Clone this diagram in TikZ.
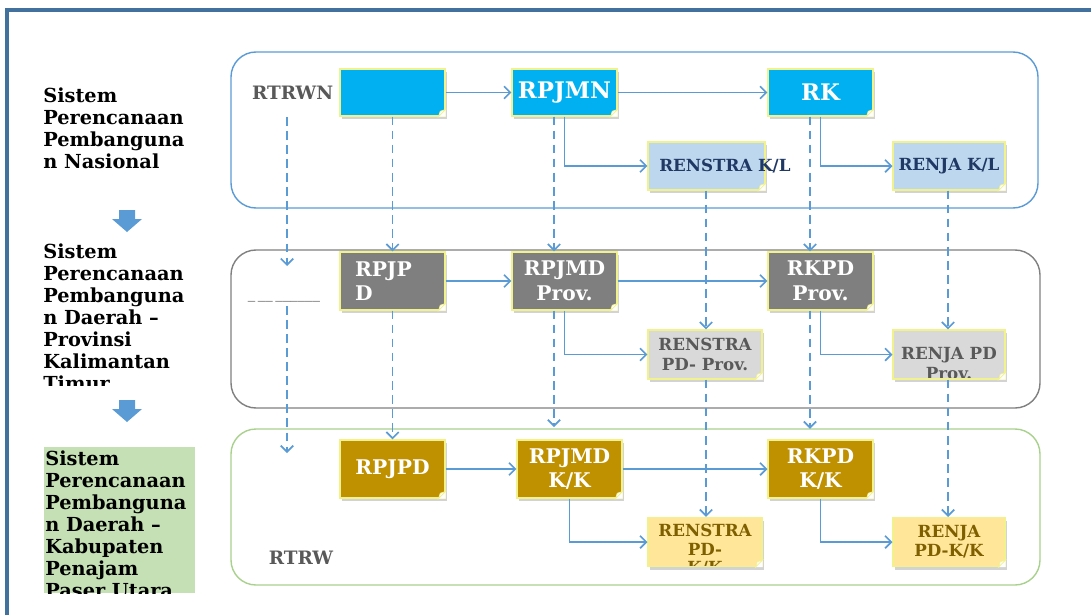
\documentclass[tikz,border=0pt]{standalone}
\usepackage{fontspec}
\setmainfont{DejaVu Serif}
\usetikzlibrary{arrows.meta,shadows}

\begin{document}
\begin{tikzpicture}[x=0.02cm,y=-0.02cm]
  % Key Colors
  \definecolor{framecolor}{HTML}{41719C}
  \definecolor{flowcolor} {HTML}{5B9BD5}
  \definecolor{nasfill}   {HTML}{00B0F0}
  \definecolor{nassub}    {HTML}{BDD7EE}
  \definecolor{nastext}   {HTML}{1F3864}
  \definecolor{provfill}  {HTML}{7F7F7F}
  \definecolor{provsub}   {HTML}{D9D9D9}
  \definecolor{provtext}  {HTML}{595959}
  \definecolor{kabfill}   {HTML}{BF9000}
  \definecolor{kabsub}    {HTML}{FFE699}
  \definecolor{kabtext}   {HTML}{7F6000}
  \definecolor{notebrd}   {HTML}{F2F28C}
  \definecolor{greenbg}   {HTML}{C5E0B4}
  \definecolor{greenline} {HTML}{A9D18E}

  % Styles
  \tikzstyle{note}=[draw=notebrd,line width=0.6pt,inner sep=0pt,align=center,
    drop shadow={shadow xshift=1pt,shadow yshift=-1.8pt,opacity=0.35}]
  \tikzstyle{big}=[note,minimum width=2.1cm,minimum height=1.16cm,text=white,
    font=\bfseries\fontsize{11.5}{14}\selectfont]
  \tikzstyle{small}=[note,minimum height=0.98cm,font=\bfseries\fontsize{9.5}{11}\selectfont]
  \tikzstyle{flow}=[flowcolor,line width=1pt,-{Straight Barb[length=3.5pt,width=7pt]}]
  \tikzstyle{link}=[flow,dash pattern=on 5pt off 3pt]
  \tikzstyle{panel}=[rounded corners=0.5cm,line width=0.8pt]
  \tikzstyle{level}=[anchor=north west,align=left,inner sep=0pt,
    font=\bfseries\fontsize{11}{12.6}\selectfont]
  \tikzstyle{plan}=[text=provtext,font=\bfseries\fontsize{10.5}{12}\selectfont]

  \useasboundingbox (0,0) rectangle (1091,615);

  % Frame and panels
  \draw[framecolor,line width=2pt] (7,615) -- (7,10) -- (1091,10);
  \draw[panel,flowcolor] (231,52)  rectangle (1038,208);
  \draw[panel,black!50]  (231,250) rectangle (1040,408);
  \draw[panel,greenline] (231,429) rectangle (1040,585);

  % Level captions
  \node[level] (nas) at (43,87) {Sistem\\Perencanaan\\Pembanguna\\n Nasional};
  \begin{scope}
    \clip (0,240) rectangle (230,385);
    \node[level] (prov) at (43,243)
      {Sistem\\Perencanaan\\Pembanguna\\n Daerah --\\Provinsi\\Kalimantan\\Timur};
  \end{scope}
  \fill[greenbg] (44,447) rectangle (195,593);
  \begin{scope}
    \clip (44,447) rectangle (195,593);
    \node[level] (kab) at (45,450)
      {Sistem\\Perencanaan\\Pembanguna\\n Daerah --\\Kabupaten\\Penajam\\Paser Utara};
  \end{scope}
  \foreach \y in {210,400}
    \fill[flowcolor] (119,\y) -- (135,\y) -- (135,\y+9) -- (142,\y+9)
      -- (127,\y+22) -- (112,\y+9) -- (119,\y+9) -- cycle;

  % Nasional
  \node[big,fill=nasfill,minimum height=0.94cm] (blank) at (392.5,92.5) {};
  \node[big,fill=nasfill,minimum height=0.94cm,font=\bfseries\fontsize{13}{15}\selectfont]
    (rpjmn) at (564.5,92.5) {RPJMN};
  \node[big,fill=nasfill,minimum height=0.94cm,font=\bfseries\fontsize{13}{15}\selectfont]
    (rk) at (820.5,92.5) {RK};
  \node[small,fill=nassub,minimum width=2.34cm,minimum height=0.96cm] (renstrakl) at (706.5,166) {};
  \node[small,fill=nassub,minimum width=2.24cm,minimum height=0.96cm,text=nastext]
    (renjakl) at (949,166) {RENJA K/L};
  \node[plan,anchor=east] (rtrwn) at (blank.west) {RTRWN};

  % Provinsi
  \node[big,fill=provfill,text width=1.5cm,align=left] (rpjpd) at (392.5,281) {RPJP\\D};
  \node[big,fill=provfill] (rpjmd) at (564.5,281) {RPJMD\\Prov.};
  \node[big,fill=provfill] (rkpd)  at (820.5,281) {RKPD\\Prov.};
  \node[small,fill=provsub,minimum width=2.28cm,text=provtext]
    (renstrapd) at (705,354.5) {RENSTRA\\PD- Prov.};
  \node[small,fill=provsub,minimum width=2.24cm,
    path picture={\node[text=provtext,align=center,font=\bfseries\fontsize{9.5}{11.5}\selectfont]
      at ([yshift=-5pt]path picture bounding box.center) {RENJA PD\\Prov.};}]
    (renjapd) at (949,354.5) {};
  \node[text=black!75,font=\fontsize{8.5}{9}\selectfont] (gap) at (284,300)
    {\_\,\_\_\,\_\_\_\_\_\_};

  % Kabupaten
  \node[big,fill=kabfill] (rpjpdkk) at (392.5,469) {RPJPD};
  \node[big,fill=kabfill] (rpjmdkk) at (569.5,469) {RPJMD\\K/K};
  \node[big,fill=kabfill] (rkpdkk)  at (820.5,469) {RKPD\\K/K};
  \node[small,fill=kabsub,minimum width=2.28cm,
    path picture={\node[text=kabtext,align=center,font=\bfseries\fontsize{9.5}{10.5}\selectfont]
      at ([yshift=-4.5pt]path picture bounding box.center) {RENSTRA\\PD-\\K/K};}]
    (renstrakk) at (705,542) {};
  \node[small,fill=kabsub,minimum width=2.24cm,text=kabtext]
    (renjakk) at (949,542) {RENJA\\PD-K/K};
  \node[plan] (rtrw) at (301,558) {RTRW};

  % Folded corners
  \foreach \n in {blank,rpjmn,rk,renstrakl,renjakl,rpjpd,rpjmd,rkpd,renstrapd,renjapd,
                  rpjpdkk,rpjmdkk,rkpdkk,renstrakk,renjakk}
  {
    \fill[white] ([xshift=-4pt]\n.south east) -- ([yshift=4pt]\n.south east)
      -- (\n.south east) -- cycle;
    \filldraw[fill=white,draw=notebrd,line width=0.4pt] ([xshift=-4pt]\n.south east)
      -- ([yshift=4pt]\n.south east) -- ([xshift=-3pt,yshift=3pt]\n.south east) -- cycle;
  }

  % Solid flows
  \draw[flow] (blank) -- (rpjmn);
  \draw[flow] (rpjmn) -- (rk);
  \draw[flow] (rpjmn.south) |- (renstrakl.west);
  \draw[flow] (rk.south) |- (renjakl.west);
  \draw[flow] (rpjpd) -- (rpjmd);
  \draw[flow] (rpjmd) -- (rkpd);
  \draw[flow] (rpjmd.south) |- (renstrapd.west);
  \draw[flow] (rkpd.south) |- (renjapd.west);
  \draw[flow] (rpjpdkk) -- (rpjmdkk);
  \draw[flow] (rpjmdkk) -- (rkpdkk);
  \draw[flow] (rpjmdkk.south) |- (renstrakk.west);
  \draw[flow] (rkpdkk.south) |- (renjakk.west);

  % Dashed links between levels
  \coordinate (rtrwtop) at (287,117);
  \coordinate (rtrwmid) at (287,266);
  \coordinate (rtrwlow) at (287,306);
  \coordinate (rtrwend) at (287,453);
  \coordinate (c3) at (554,0);
  \coordinate (c5) at (706,0);
  \coordinate (c6) at (810,0);
  \coordinate (c7) at (948,0);
  \draw[link] (rtrwtop) -- (rtrwmid);
  \draw[link] (rtrwlow) -- (rtrwend);
  \draw[link] (blank.south) -- (rpjpd.north);
  \draw[link] (rpjpd.south) -- (rpjpdkk.north);
  \draw[link] (rpjmn.south -| c3) -- (rpjmd.north -| c3);
  \draw[link,shorten >=7pt] (rpjmd.south -| c3) -- (rpjmdkk.north -| c3);
  \draw[link] (renstrakl.south -| c5) -- (renstrapd.north -| c5);
  \draw[link] (renstrapd.south -| c5) -- (renstrakk.north -| c5);
  \draw[link] (rk.south -| c6) -- (rkpd.north -| c6);
  \draw[link,shorten >=6pt] (rkpd.south -| c6) -- (rkpdkk.north -| c6);
  \draw[link] (renjakl.south -| c7) -- (renjapd.north -| c7);
  \draw[link] (renjapd.south -| c7) -- (renjakk.north -| c7);

  % Overflowing caption
  \node[anchor=west,inner sep=0pt,text=nastext,font=\bfseries\fontsize{9.5}{11}\selectfont]
    (renstrakltext) at ([xshift=6.5pt]renstrakl.west) {RENSTRA K/L};

\end{tikzpicture}
\end{document}
